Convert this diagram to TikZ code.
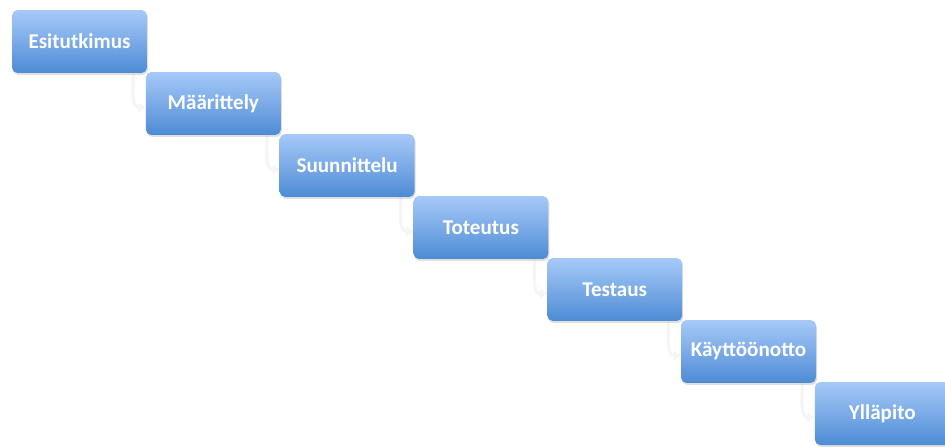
\documentclass[tikz,border=0pt]{standalone}
\usepackage{fontspec}
\setmainfont{Carlito}
\usetikzlibrary{positioning,shadows,arrows.meta,calc,backgrounds}

\definecolor{phasetop}{HTML}{A6C9F8}
\definecolor{phasemid}{HTML}{7BABE7}
\definecolor{phasedark}{HTML}{4C8BD4}

\begin{document}
\begin{tikzpicture}[
    x=0.02cm, y=-0.02cm,
    phase/.style={rectangle,rounded corners=0.11cm,minimum width=2.7cm,minimum height=1.26cm,
      top color=phasetop, bottom color=phasedark, middle color=phasemid,
      drop shadow={shadow xshift=0.02cm,shadow yshift=-0.04cm,opacity=0.25},
      text=white,font=\bfseries\fontsize{12}{14}\selectfont},
    link/.style={draw=black!4,line width=0.06cm,-{Triangle[length=0.14cm,width=0.2cm]}}
    ]

    \useasboundingbox (0,0) rectangle (945,446);

    % the phases, one step down and right each
    \node (s1) [phase] at (79.5, 41.5) {Esitutkimus};
    \node (s2) [phase] at (79.5 + 133.8, 41.5 + 62) {Määrittely};
    \node (s3) [phase] at (79.5 + 2 * 133.8, 41.5 + 2 * 62) {Suunnittelu};
    \node (s4) [phase] at (79.5 + 3 * 133.8, 41.5 + 3 * 62) {Toteutus};
    \node (s5) [phase] at (79.5 + 4 * 133.8, 41.5 + 4 * 62) {Testaus};
    \node (s6) [phase] at (79.5 + 5 * 133.8, 41.5 + 5 * 62) {Käyttöönotto};
    \node (s7) [phase] at (79.5 + 6 * 133.8, 41.5 + 6 * 62) {Ylläpito};

    % faint connectors behind the boxes
    \begin{scope}[on background layer]
      \foreach \i [count=\j from 2] in {1,...,6}
        {\coordinate (t\i) at ($(s\i.south east)+(-14,-2)$);
          \draw[link] (t\i) to[out=-90,in=180] ($(s\j.west)+(0,4)$);
        }
    \end{scope}

  \end{tikzpicture}
\end{document}
